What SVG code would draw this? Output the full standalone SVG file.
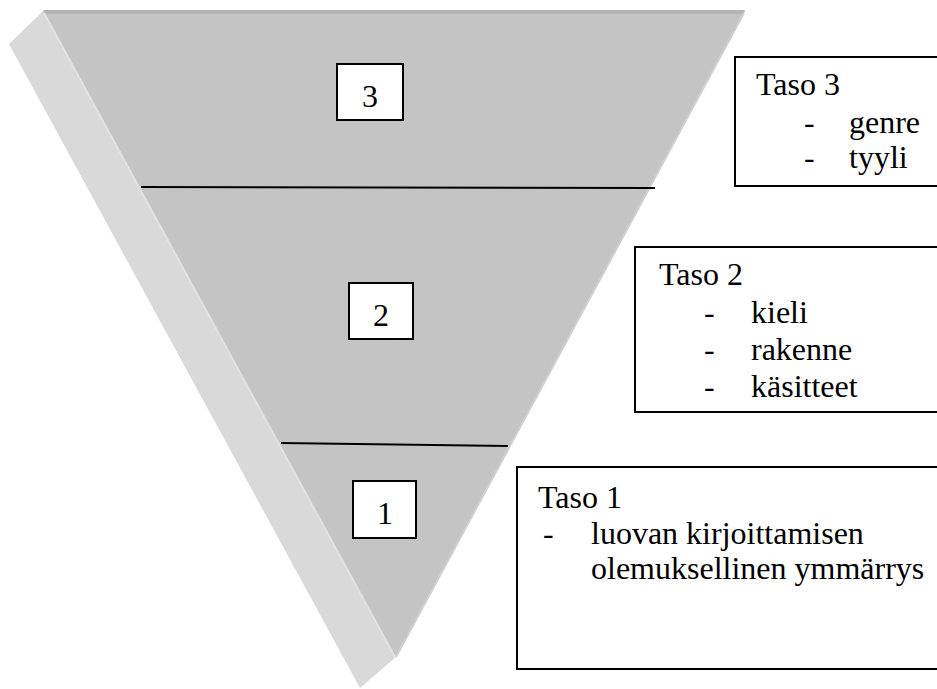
<svg xmlns="http://www.w3.org/2000/svg" width="937" height="689" viewBox="0 0 937 689">
<style>
  .txt { font-family: "Liberation Serif", "Times New Roman", serif; font-size: 32px; fill: #000; }
  .box { fill: #fff; stroke: #000; stroke-width: 2; }
  .sep { stroke: #000; stroke-width: 2; fill: none; }
</style>
<rect x="0" y="0" width="937" height="689" fill="#fff"/>
<g id="pyramid">
  <polygon points="43,11 9,44 360,688 395,658" fill="#d9d9d9"/>
  <polygon points="43,11 745,11 395,658" fill="#c4c4c4"/>
  <polygon points="43,10 745,10 743,14 45,14" fill="#b4b4b4"/>
  <line x1="44" y1="13" x2="395" y2="657" stroke="#e2e2e2" stroke-width="2"/>
  <line x1="744" y1="13" x2="396" y2="657" stroke="#d0d0d0" stroke-width="2"/>
</g>
<g id="connectors">
  <line class="sep" x1="141" y1="187" x2="655" y2="188"/>
  <line class="sep" x1="281" y1="443" x2="508" y2="446"/>
</g>
<g id="n3">
  <rect class="box" x="337" y="64" width="66" height="56"/>
  <text class="txt" x="370" y="107" text-anchor="middle">3</text>
</g>
<g id="n2">
  <rect class="box" x="349" y="283" width="64" height="56"/>
  <text class="txt" x="381" y="326" text-anchor="middle">2</text>
</g>
<g id="n1">
  <rect class="box" x="353" y="481" width="63" height="57"/>
  <text class="txt" x="385" y="524" text-anchor="middle">1</text>
</g>
<g id="taso3">
  <rect class="box" x="735" y="57" width="210" height="129"/>
  <text class="txt" x="756" y="95">Taso 3</text>
  <text class="txt" x="804" y="133">-</text>
  <text class="txt" x="849" y="133">genre</text>
  <text class="txt" x="804" y="168">-</text>
  <text class="txt" x="849" y="168">tyyli</text>
</g>
<g id="taso2">
  <rect class="box" x="635" y="247" width="310" height="165"/>
  <text class="txt" x="659" y="285">Taso 2</text>
  <text class="txt" x="704" y="323">-</text>
  <text class="txt" x="751" y="323">kieli</text>
  <text class="txt" x="704" y="360">-</text>
  <text class="txt" x="751" y="360">rakenne</text>
  <text class="txt" x="704" y="397">-</text>
  <text class="txt" x="751" y="397">käsitteet</text>
</g>
<g id="taso1">
  <rect class="box" x="517" y="467" width="430" height="202"/>
  <text class="txt" x="538" y="508">Taso 1</text>
  <text class="txt" x="543" y="544">-</text>
  <text class="txt" x="591" y="544">luovan kirjoittamisen</text>
  <text class="txt" x="591" y="579">olemuksellinen ymmärrys</text>
</g>
</svg>
